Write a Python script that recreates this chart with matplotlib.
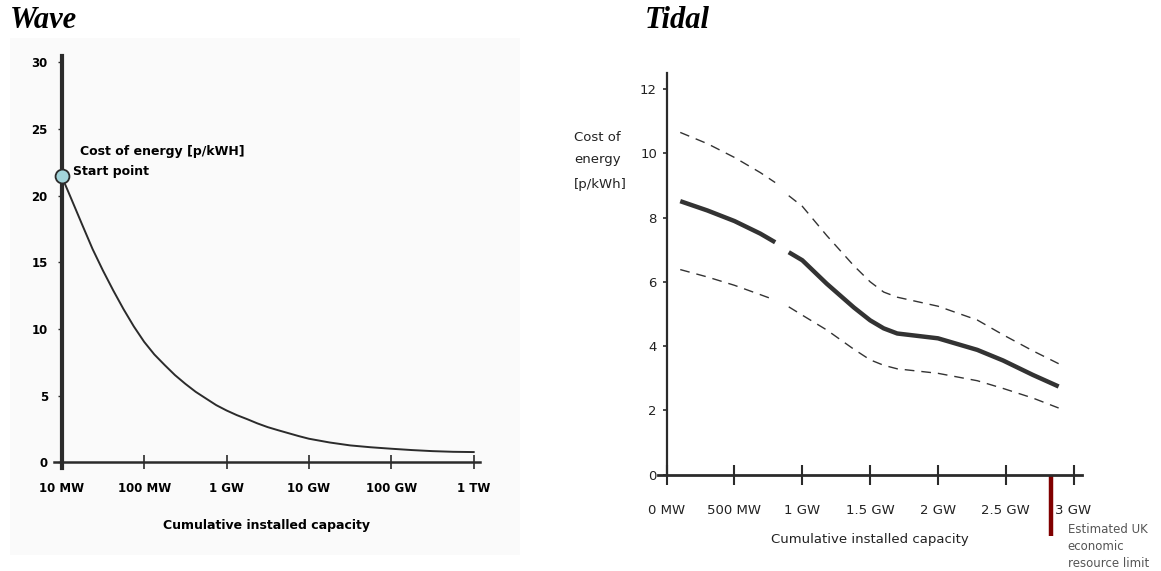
import numpy as np
import matplotlib
matplotlib.use("Agg")
import matplotlib.pyplot as plt
from matplotlib.patches import Rectangle
from matplotlib.ticker import NullLocator
from matplotlib.font_manager import FontProperties

# Wave: cumulative installed capacity [MW] vs cost of energy [p/kWh]
wave_mw = [10, 12.6, 17.8, 23.7, 31.6, 42.2, 56.2, 75.0, 100, 133, 178, 237, 316,
           422, 562, 750, 1000, 1334, 1778, 2371, 3162, 4217, 5623, 7499, 10000,
           17783, 31623, 56234, 100000, 177828, 316228, 562341, 1000000]
wave_cost = [21.45, 20.0, 17.8, 16.0, 14.4, 12.9, 11.5, 10.2, 9.05, 8.1, 7.3, 6.55,
             5.9, 5.3, 4.8, 4.3, 3.9, 3.55, 3.25, 2.93, 2.65, 2.42, 2.2, 1.98, 1.78,
             1.5, 1.28, 1.14, 1.03, 0.93, 0.85, 0.8, 0.78]
wave_ticks = [10, 100, 1e3, 1e4, 1e5, 1e6]
wave_labels = ["10 MW", "100 MW", "1 GW", "10 GW", "100 GW", "1 TW"]
wave_start = 21.45

# Tidal: cumulative installed capacity [GW], nan marks the break in the lines
tidal_gw = [0.10, 0.30, 0.50, 0.69, 0.80, np.nan, 0.90, 1.00, 1.18, 1.38, 1.50,
            1.60, 1.70, 2.00, 2.29, 2.48, 2.70, 2.89]
tidal_mid = [8.51, 8.22, 7.89, 7.50, 7.23, np.nan, 6.92, 6.67, 5.94, 5.20, 4.80,
             4.55, 4.39, 4.24, 3.88, 3.55, 3.10, 2.74]
tidal_high = [10.65, 10.30, 9.87, 9.40, 9.09, np.nan, 8.68, 8.35, 7.44, 6.50, 6.00,
              5.68, 5.52, 5.24, 4.81, 4.35, 3.85, 3.45]
tidal_low = [6.38, 6.15, 5.89, 5.60, 5.43, np.nan, 5.22, 4.96, 4.50, 3.90, 3.57,
             3.40, 3.29, 3.15, 2.92, 2.68, 2.38, 2.07]
tidal_ticks = [0, 0.5, 1, 1.5, 2, 2.5, 3]
tidal_labels = ["0 MW", "500 MW", "1 GW", "1.5 GW", "2 GW", "2.5 GW", "3 GW"]
uk_limit = 2.83

W, H = 1161, 571
fig = plt.figure(figsize=(W / 100, H / 100), dpi=100)
fig.patch.set_facecolor("white")

fig.patches.append(Rectangle((10 / W, 1 - 555 / H), 510 / W, 517 / H,
                             transform=fig.transFigure, facecolor="#fafafa",
                             edgecolor="none", zorder=-5))

title_kw = dict(family="Liberation Serif", weight="bold", style="italic", size=22, va="center")
fig.text(10 / W, 1 - 21 / H, "Wave", **title_kw)
fig.text(645 / W, 1 - 21 / H, "Tidal", **title_kw)

# ---- wave ----
ink = "#2b2b2b"
ax = fig.add_axes([53.5 / W, 1 - 467.8 / H, 426.8 / W, 412 / H])
ax.set_zorder(2)
ax.patch.set_alpha(0)
ax.set_xscale("log")
ax.set_xlim(10 ** 0.9, 10 ** 6.08)
ax.set_ylim(-0.4, 30.5)
ax.spines[["top", "right"]].set_visible(False)
ax.spines["left"].set_position(("data", 10))
ax.spines["bottom"].set_position(("data", 0))
ax.spines["left"].set_linewidth(3)
ax.spines["bottom"].set_linewidth(1.8)
ax.spines["left"].set_color(ink)
ax.spines["bottom"].set_color(ink)
ax.plot(wave_mw, wave_cost, color=ink, lw=1.4)
ax.plot([wave_mw[0]], [wave_start], "o", ms=10, mfc="#a3d4da", mec=ink, mew=1.3,
        clip_on=False, zorder=5)
ax.xaxis.set_minor_locator(NullLocator())
ax.set_xticks(wave_ticks, wave_labels)
ax.set_yticks(range(0, 31, 5))
tick_fp = FontProperties(family="DejaVu Sans", weight="bold", size=8.5)
for t in ax.get_xticklabels() + ax.get_yticklabels():
    t.set_fontproperties(tick_fp)
ax.tick_params(axis="x", direction="inout", length=10, width=1.2, pad=9, colors=ink,
               labelcolor="black")
ax.tick_params(axis="y", direction="out", length=3, width=1, pad=7, colors=ink,
               labelcolor="black")
lab_kw = dict(family="DejaVu Sans", weight="bold", size=9, color="black")
ax.set_xlabel("Cumulative installed capacity", labelpad=17, **lab_kw)
ax.text(16.7, 23.3, "Cost of energy [p/kWH]", va="center", **lab_kw)
ax.text(13.7, 21.8, "Start point", va="center", **lab_kw)

# ---- tidal ----
ax2 = fig.add_axes([658 / W, 1 - 474.5 / H, 423.7 / W, 401.5 / H])
ax2.set_xlim(-0.064, 3.06)
ax2.set_ylim(0, 12.5)
ax2.spines[["top", "right"]].set_visible(False)
for s in ["left", "bottom"]:
    ax2.spines[s].set_color(ink)
ax2.spines["left"].set_position(("data", 0))
ax2.spines["left"].set_linewidth(1.6)
ax2.spines["bottom"].set_linewidth(2)
ax2.plot(tidal_gw, tidal_mid, color="#333333", lw=3.2, solid_capstyle="butt")
ax2.plot(tidal_gw, tidal_high, color="#333333", lw=1.0, dashes=(7, 5))
ax2.plot(tidal_gw, tidal_low, color="#333333", lw=1.0, dashes=(7, 5))
ax2.set_xticks(tidal_ticks, tidal_labels)
ax2.set_yticks(range(0, 13, 2))
ax2.tick_params(axis="x", direction="inout", length=15, width=1.5, pad=14,
                labelsize=9.5, colors=ink, labelcolor="#222222")
ax2.tick_params(axis="y", direction="out", length=3, width=1.2, pad=4,
                labelsize=9.5, colors=ink, labelcolor="#222222")
ax2.set_xlabel("Cumulative installed capacity", fontsize=9.5, color="#222222", labelpad=11)
for txt, yv in [("Cost of", 10.48), ("energy", 9.8), ("[p/kWh]", 9.02)]:
    ax2.text(-0.684, yv, txt, fontsize=9.5, color="#222222", va="center")

ax2.plot([uk_limit, uk_limit], [0, -1.92], color="#800000", lw=3.2,
         solid_capstyle="butt", clip_on=False)
for txt, yv in [("Estimated UK", -1.70), ("economic", -2.23), ("resource limit", -2.76)]:
    ax2.text(2.957, yv, txt, fontsize=8.5, color="#555555", va="center")

fig.savefig("out.png", dpi=100)
